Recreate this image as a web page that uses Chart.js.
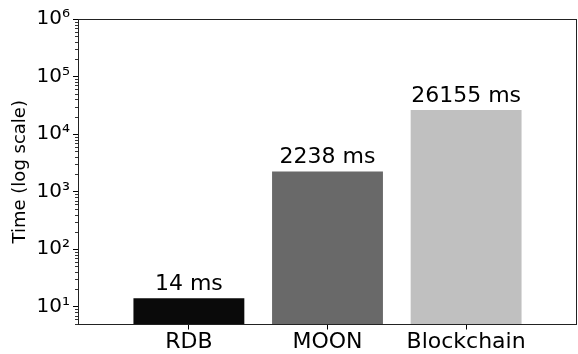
<!DOCTYPE html>
<html>
<head>
<meta charset="utf-8">
<script src="https://cdn.jsdelivr.net/npm/chart.js@4.4.1/dist/chart.umd.min.js"></script>
<style>
  html, body { margin: 0; padding: 0; background: #fff; }
  #wrap { width: 578px; height: 354px; position: relative; }
</style>
</head>
<body>
<div id="wrap"><canvas id="timeChart"></canvas></div>
<script>
// Query time per storage backend (ms), log scale
const backends = ['RDB', 'MOON', 'Blockchain'];
const timesMs = [14, 2238, 26155];
const barColors = ['#0a0a0a', '#696969', '#c0c0c0'];
const decades = [1, 2, 3, 4, 5, 6];
const yMin = 4.9;
const yMax = 1e6;

const FONT = 'DejaVu Sans';
const SUP = { 0: '⁰', 1: '¹', 2: '²', 3: '³', 4: '⁴', 5: '⁵', 6: '⁶', 7: '⁷', 8: '⁸', 9: '⁹' };

// Frame, minor ticks and value labels
const extras = {
  id: 'extras',
  afterDatasetsDraw(chart) {
    const { ctx, chartArea: a } = chart;
    const y = chart.scales.y;
    const meta = chart.getDatasetMeta(0);

    ctx.save();
    // value labels above bars
    ctx.fillStyle = '#000';
    ctx.font = `22px "${FONT}"`;
    ctx.textAlign = 'center';
    ctx.textBaseline = 'alphabetic';
    meta.data.forEach((bar, i) => {
      ctx.fillText(`${timesMs[i]} ms`, bar.x, bar.y - 8);
    });

    // minor ticks on the log axis
    ctx.strokeStyle = '#000';
    ctx.lineWidth = 0.8;
    decades.concat([0]).forEach(d => {
      for (let m = 2; m <= 9; m++) {
        const v = m * Math.pow(10, d);
        if (v < yMin || v > yMax) continue;
        const py = Math.round(y.getPixelForValue(v)) + 0.5;
        ctx.beginPath();
        ctx.moveTo(a.left - 3, py);
        ctx.lineTo(a.left, py);
        ctx.stroke();
      }
    });

    // axes frame
    const l = Math.round(a.left) + 0.5, r = Math.round(a.right) - 0.5;
    const t = Math.round(a.top) + 0.5, b = Math.floor(a.bottom) + 0.5;
    ctx.lineWidth = 1;
    ctx.strokeStyle = '#222';
    ctx.strokeRect(l, t, r - l, b - t);
    ctx.restore();
  }
};

new Chart(document.getElementById('timeChart'), {
  type: 'bar',
  data: {
    datasets: [{
      data: timesMs.map((t, i) => ({ x: i, y: t })),
      backgroundColor: barColors,
      borderWidth: 0,
      inflateAmount: 0,
      categoryPercentage: 1,
      barPercentage: 0.8
    }]
  },
  options: {
    responsive: true,
    maintainAspectRatio: false,
    animation: false,
    layout: { padding: { top: 19, right: 1, left: 0, bottom: 0 } },
    plugins: {
      legend: { display: false },
      tooltip: { enabled: false }
    },
    scales: {
      x: {
        type: 'linear',
        offset: false,
        min: -0.8,
        max: 2.8,
        afterBuildTicks: s => { s.ticks = backends.map((_, i) => ({ value: i })); },
        afterFit: s => { s.height = 29.5; },
        border: { display: false },
        grid: { drawOnChartArea: false, drawTicks: true, tickLength: 5, tickColor: '#000', offset: false },
        ticks: {
          color: '#000',
          font: { family: FONT, size: 22 },
          padding: 0,
          maxRotation: 0,
          callback: v => backends[v]
        }
      },
      y: {
        type: 'logarithmic',
        min: yMin,
        max: yMax,
        afterBuildTicks: s => { s.ticks = decades.map(d => ({ value: Math.pow(10, d), major: true })); },
        afterFit: s => { s.width = 78; },
        border: { display: false },
        grid: { drawOnChartArea: false, drawTicks: true, tickLength: 5, tickColor: '#000' },
        ticks: {
          color: '#000',
          font: { family: FONT, size: 20 },
          padding: 3,
          callback: v => '10' + SUP[Math.round(Math.log10(v))]
        },
        title: {
          display: true,
          text: 'Time (log scale)',
          color: '#000',
          font: { family: FONT, size: 18 },
          padding: { top: 10, bottom: 0 }
        }
      }
    }
  },
  plugins: [extras]
});
</script>
</body>
</html>
